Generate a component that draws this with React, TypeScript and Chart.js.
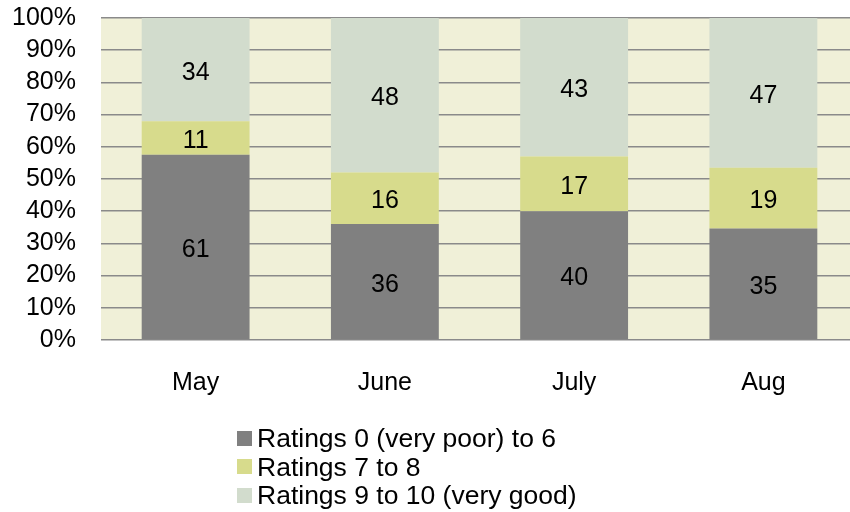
import React, { useEffect, useRef } from "react";
import { Chart, registerables } from "chart.js";

Chart.register(...registerables);

const categories = ["May", "June", "July", "Aug"];
const seriesNames = ["Ratings 0 (very poor) to 6", "Ratings 7 to 8", "Ratings 9 to 10 (very good)"];
const lowRatings = [61, 36, 40, 35];
const midRatings = [11, 16, 17, 19];
const highRatings = [34, 48, 43, 47];
const seriesColors = ["#808080", "#d7db8c", "#d2dccd"];
const yTicks = [0, 10, 20, 30, 40, 50, 60, 70, 80, 90, 100];

const FONT = '"Liberation Sans", Arial, sans-serif';

export default function App() {
  const ref = useRef<HTMLCanvasElement | null>(null);

  useEffect(() => {
    document.body.style.margin = "0";
    document.body.style.overflow = "hidden";
    const raw = [lowRatings, midRatings, highRatings];
    const totals = categories.map((_, i) => raw.reduce((s, arr) => s + arr[i], 0));
    const datasets = raw.map((arr, k) => ({
      label: seriesNames[k],
      data: arr.map((v, i) => (v / totals[i]) * 100),
      rawValues: arr,
      backgroundColor: seriesColors[k],
      borderWidth: 0,
      categoryPercentage: 1,
      barPercentage: 0.57,
    }));

    const bgPlugin = {
      id: "bgPlugin",
      beforeDraw(chart: any) {
        const { ctx, chartArea } = chart;
        ctx.save();
        ctx.fillStyle = "#f0f0d8";
        ctx.fillRect(chartArea.left, chartArea.top, chartArea.right - chartArea.left, chartArea.bottom - chartArea.top);
        ctx.restore();
      },
    };

    const labelPlugin = {
      id: "labelPlugin",
      afterDatasetsDraw(chart: any) {
        const { ctx } = chart;
        ctx.save();
        ctx.font = `25px ${FONT}`;
        ctx.fillStyle = "#000";
        ctx.textAlign = "center";
        ctx.textBaseline = "middle";
        chart.data.datasets.forEach((ds: any, di: number) => {
          const meta = chart.getDatasetMeta(di);
          meta.data.forEach((el: any, i: number) => {
            const y = (el.y + el.base) / 2;
            ctx.fillText(String(ds.rawValues[i]), el.x, y + 3);
          });
        });
        ctx.restore();
      },
    };

    const chart = new Chart(ref.current!, {
      type: "bar",
      data: { labels: categories, datasets: datasets as any },
      options: {
        animation: false,
        responsive: false,
        devicePixelRatio: 1,
        layout: { padding: { top: 18, right: 12, left: 0, bottom: 0 } },
        plugins: { legend: { display: false }, tooltip: { enabled: false } },
        scales: {
          x: {
            stacked: true,
            grid: { display: false },
            border: { display: false },
            ticks: { font: { size: 25, family: FONT }, color: "#000", padding: 20 },
            afterFit: (s: any) => {
              s.height = 172;
              s.paddingLeft = 0;
              s.paddingRight = 0;
            },
          },
          y: {
            stacked: true,
            min: 0,
            max: 100,
            afterBuildTicks: (s: any) => {
              s.ticks = yTicks.map((v) => ({ value: v }));
            },
            ticks: {
              autoSkip: false,
              font: { size: 25, family: FONT },
              color: "#000",
              padding: 25,
              callback: (v: any) => `${v}%`,
            },
            grid: { color: "#8a8a8a", lineWidth: 1.6, drawTicks: false },
            border: { display: false },
            afterFit: (s: any) => {
              s.width = 101;
              s.paddingTop = 0;
              s.paddingBottom = 0;
            },
          },
        },
      },
      plugins: [bgPlugin, labelPlugin],
    });
    return () => chart.destroy();
  }, []);

  return (
    <div style={{ position: "relative", width: 870, height: 512 }}>
      <canvas ref={ref} width={870} height={512} style={{ display: "block" }} />
      <div
        style={{
          position: "absolute",
          left: 237,
          top: 424,
          fontFamily: FONT,
          fontSize: 26.5,
          lineHeight: "28.5px",
          color: "#000",
        }}
      >
        {seriesNames.map((name, k) => (
          <div key={name} style={{ display: "flex", alignItems: "center", whiteSpace: "nowrap", height: 28.5 }}>
            <span
              style={{
                display: "inline-block",
                width: 15,
                height: 15,
                background: seriesColors[k],
                marginRight: 5,
              }}
            />
            <span>{name}</span>
          </div>
        ))}
      </div>
    </div>
  );
}
